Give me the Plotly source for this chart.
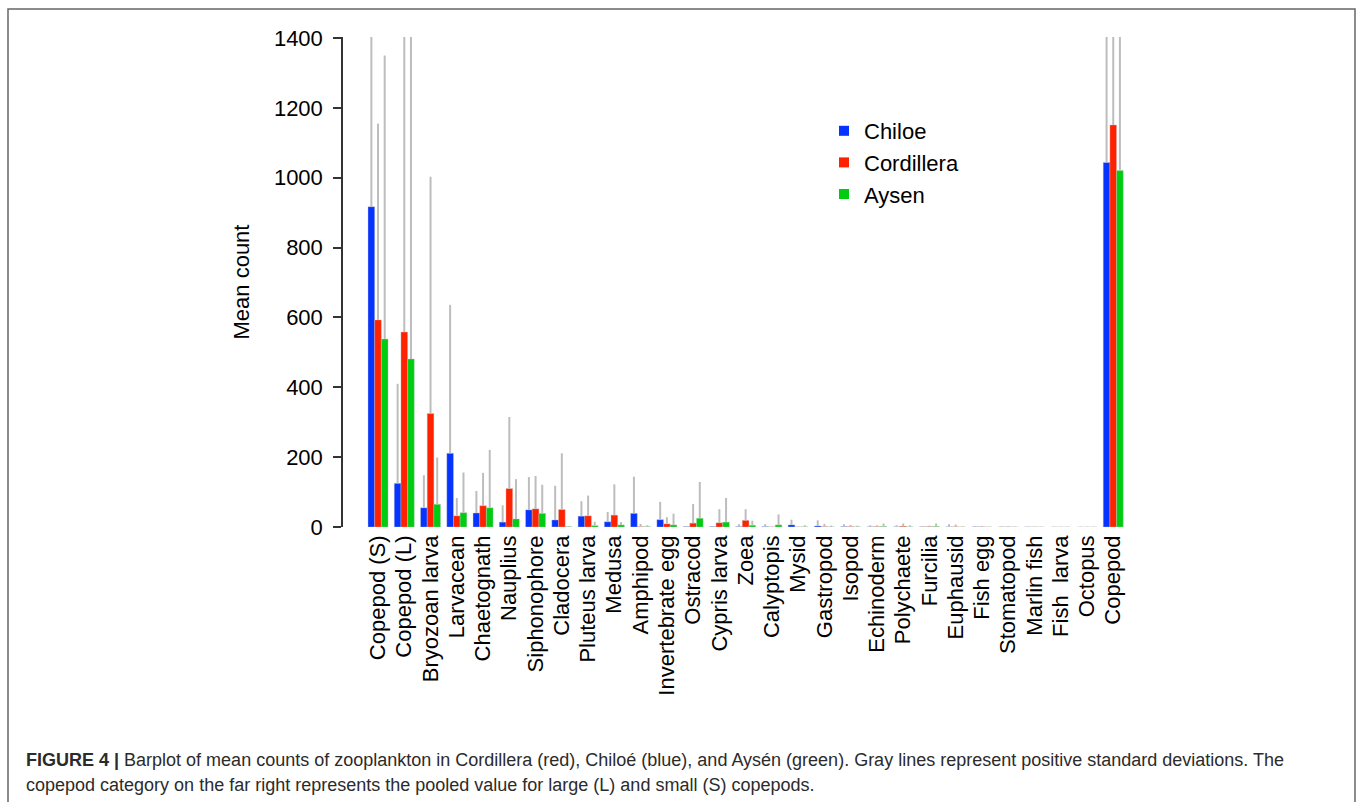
import plotly.graph_objects as go

# Zooplankton categories (last one pools large and small copepods)
categories = ["Copepod (S)", "Copepod (L)", "Bryozoan larva", "Larvacean", "Chaetognath",
              "Nauplius", "Siphonophore", "Cladocera", "Pluteus larva", "Medusa", "Amphipod",
              "Invertebrate egg", "Ostracod", "Cypris larva", "Zoea", "Calyptopis", "Mysid",
              "Gastropod", "Isopod", "Echinoderm", "Polychaete", "Furcilia", "Euphausid",
              "Fish egg", "Stomatopod", "Marlin fish", "Fish  larva", "Octopus", "Copepod"]

# Mean counts per region
chiloe_mean = [917, 125, 55, 211, 40, 14, 49, 20, 31, 15, 39, 21, 1, 1, 1, 1, 6, 3, 1,
               0.5, 0.5, 0.5, 0.5, 0.5, 0.2, 0.2, 0.1, 0.1, 1044]
cordillera_mean = [593, 558, 325, 32, 61, 110, 52, 50, 32, 34, 1, 9, 11, 12, 19, 0.3, 0.3, 1, 1,
                   1, 2, 1, 0.5, 0.5, 0.3, 0.2, 0.1, 0.1, 1151]
aysen_mean = [538, 481, 65, 41, 55, 23, 39, 1, 4, 6, 1, 6, 25, 14, 5, 6, 0.5, 0.5, 0.5,
              1.5, 0.5, 1.5, 0.2, 0.2, 0.2, 0.1, 0.1, 0.1, 1021]

# Positive standard deviations per region
chiloe_sd = [800, 285, 93, 425, 63, 48, 94, 98, 43, 28, 105, 51, 2, 1, 7, 7, 15, 16, 7,
             4.5, 4.5, 2.5, 7.5, 2.5, 1.8, 0.8, 0.9, 0.9, 700]
cordillera_sd = [562, 1100, 678, 51, 94, 205, 94, 161, 58, 88, 8, 19, 55, 39, 32, 0.7, 0.7, 8, 5,
                 4, 8, 3, 6.5, 2.5, 1.7, 0.8, 0.9, 0.9, 650]
aysen_sd = [812, 1000, 134, 115, 166, 114, 82, 2, 11, 8, 4, 32, 104, 69, 13, 30, 4.5, 3.5, 3.5,
            8.5, 4.5, 8.5, 1.8, 0.8, 0.8, 0.9, 0.9, 0.9, 700]

y_ticks = [0, 200, 400, 600, 800, 1000, 1200, 1400]

series = [
    ("Chiloe", chiloe_mean, chiloe_sd, "#0533FF"),
    ("Cordillera", cordillera_mean, cordillera_sd, "#FF2200"),
    ("Aysen", aysen_mean, aysen_sd, "#00CC11"),
]

W, H = 1357, 802
L, R, T, B = 343, 228, 37, 275
pw, ph = W - L - R, H - T - B


def px(xp):
    return (xp - L) / pw


def py(yp):
    return (H - B - yp) / ph


fig = go.Figure()
for name, mean, sd, color in series:
    fig.add_trace(go.Bar(
        x=categories, y=mean, name=name, showlegend=False,
        marker=dict(color=color, line=dict(width=0.6, color="rgba(200,200,200,0.6)")),
        error_y=dict(type="data", symmetric=False, array=sd, arrayminus=[0] * len(sd),
                     width=0, thickness=2, color="#BDBDBD"),
    ))
for name, mean, sd, color in series:
    fig.add_trace(go.Scatter(
        x=[None], y=[None], mode="markers", name=name,
        marker=dict(symbol="square", size=10, color=color),
    ))

fig.update_layout(
    width=W, height=H,
    margin=dict(l=L, r=R, t=T, b=B, pad=0),
    paper_bgcolor="white", plot_bgcolor="white",
    barmode="group", bargap=0.238, bargroupgap=0,
    font=dict(family="Liberation Sans, Arial, sans-serif", color="black"),
    showlegend=True,
    legend=dict(x=px(824), y=py(110), xanchor="left", yanchor="top",
                font=dict(size=22), bgcolor="rgba(0,0,0,0)", tracegroupgap=0,
                itemwidth=30),
)
fig.update_xaxes(
    type="category", range=[-1.334, 28.6], tickangle=-90,
    showline=False, showgrid=False, zeroline=False, ticks="",
    tickfont=dict(size=22), ticklabelstandoff=3,
)
fig.update_yaxes(
    range=[0, 1403], tickvals=y_ticks, ticktext=[str(v) for v in y_ticks],
    showline=True, linecolor="#333333", linewidth=1.5,
    ticks="outside", ticklen=8, tickwidth=1.5, tickcolor="#333333",
    showgrid=False, zeroline=False, tickfont=dict(size=22), ticklabelstandoff=6,
    title=dict(text="Mean count", font=dict(size=22), standoff=18),
)

# Outer frame around figure and caption
fig.add_shape(type="rect", xref="paper", yref="paper",
              x0=px(8), x1=px(1355), y0=py(820), y1=py(9),
              line=dict(color="#666666", width=1.5), fillcolor="rgba(0,0,0,0)", layer="below")

caption1 = ("<b>FIGURE 4 |</b> Barplot of mean counts of zooplankton in Cordillera (red), "
            "Chiloé (blue), and Aysén (green). Gray lines represent positive standard deviations. The")
caption2 = ("copepod category on the far right represents the pooled value for large (L) "
            "and small (S) copepods.")
for text, yline in [(caption1, 760), (caption2, 785)]:
    fig.add_annotation(text=text, xref="paper", yref="paper", x=px(24), y=py(yline),
                       xanchor="left", yanchor="middle", showarrow=False, align="left",
                       font=dict(size=18, color="#2b2b2b",
                                 family="Liberation Sans, Arial, sans-serif"))

fig.write_html("out.html")
